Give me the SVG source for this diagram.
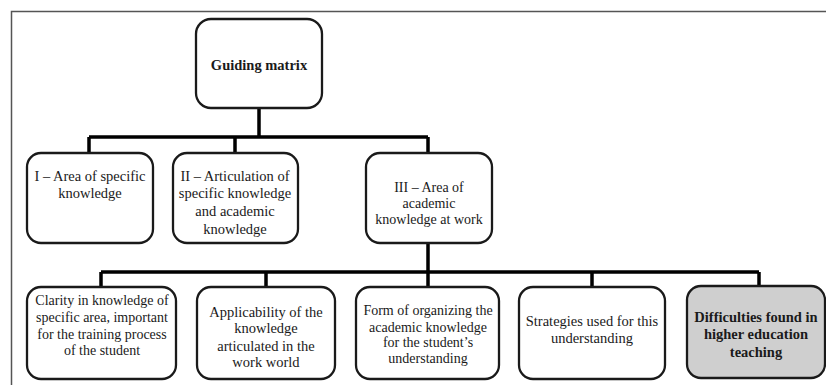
<svg xmlns="http://www.w3.org/2000/svg" width="826" height="385" viewBox="0 0 826 385">
<style>
.box{fill:#fff;stroke:#1a1a1a;stroke-width:2.3}
.grey{fill:#cfcfcf}
text{font-family:'Liberation Serif','Times New Roman','DejaVu Serif',serif;font-size:14.5px;fill:#1a1a1a;text-anchor:middle}
.s{font-size:14px}
.b{font-weight:bold}
.c{fill:none;stroke:#000;stroke-width:3.5}
</style>
<rect width="826" height="385" fill="#fff"/>
<path d="M11.5,400 V11.5 H830" fill="none" stroke="#555" stroke-width="1.5"/>
<g id="connectors">
<path class="c" d="M259,108 V137 M89,137 H428 M89,137 V152 M235,137 V152 M428,137 V153"/>
<path class="c" d="M428,243 V272 M101,272 H759 M101,272 V287 M266,272 V287 M428,272 V287 M592,272 V287 M759,272 V286"/>
</g>
<g id="guiding">
<rect class="box" x="196" y="19" width="126" height="89" rx="15"/>
<text class="b" x="259" y="70">Guiding matrix</text>
</g>
<g id="area1">
<rect class="box" x="27" y="153" width="126" height="90" rx="14"/>
<text x="90" y="181">I – Area of specific</text>
<text x="90" y="198">knowledge</text>
</g>
<g id="area2">
<rect class="box" x="173" y="153" width="125" height="90" rx="14"/>
<text x="235" y="181">II – Articulation of</text>
<text x="235" y="198">specific knowledge</text>
<text x="235" y="216">and academic</text>
<text x="235" y="234">knowledge</text>
</g>
<g id="area3">
<rect class="box" x="366" y="153" width="126" height="90" rx="14"/>
<text class="s" x="429" y="192">III – Area of</text>
<text class="s" x="429" y="208">academic</text>
<text class="s" x="429" y="224">knowledge at work</text>
</g>
<g id="clarity">
<rect class="box" x="27" y="287" width="149" height="92" rx="14"/>
<text class="s" x="102" y="305">Clarity in knowledge of</text>
<text class="s" x="102" y="322">specific area, important</text>
<text class="s" x="102" y="339">for the training process</text>
<text class="s" x="102" y="355">of the student</text>
</g>
<g id="applicability">
<rect class="box" x="197" y="287" width="138" height="92" rx="14"/>
<text x="266" y="317">Applicability of the</text>
<text x="266" y="333">knowledge</text>
<text x="266" y="351">articulated in the</text>
<text x="266" y="367">work world</text>
</g>
<g id="form">
<rect class="box" x="356" y="287" width="143" height="92" rx="14"/>
<text class="s" x="428" y="315">Form of organizing the</text>
<text class="s" x="428" y="332">academic knowledge</text>
<text class="s" x="428" y="347">for the student’s</text>
<text class="s" x="428" y="363">understanding</text>
</g>
<g id="strategies">
<rect class="box" x="519" y="287" width="146" height="92" rx="14"/>
<text x="592" y="326">Strategies used for this</text>
<text x="592" y="343">understanding</text>
</g>
<g id="difficulties">
<rect class="box grey" x="687" y="286" width="138" height="92" rx="14"/>
<text class="b" x="756" y="322">Difficulties found in</text>
<text class="b" x="756" y="339">higher education</text>
<text class="b" x="756" y="357">teaching</text>
</g>
</svg>
